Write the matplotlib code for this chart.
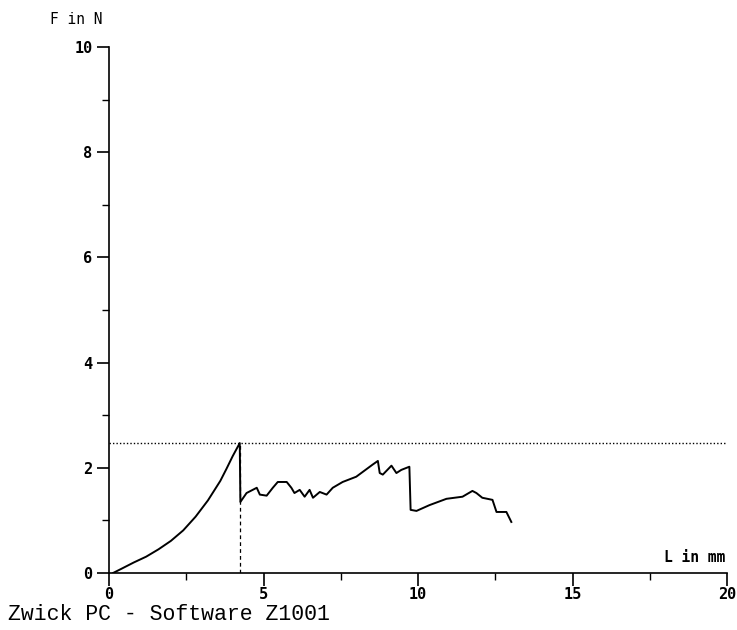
import numpy as np
import matplotlib.pyplot as plt
from matplotlib.ticker import MultipleLocator

# Kraft-Weg-Kurve (L in mm, F in N)
L_mm = [0.13, 0.4, 0.8, 1.2, 1.6, 2.0, 2.4, 2.8, 3.2, 3.6, 3.8, 4.0, 4.23,
        4.25, 4.45, 4.78, 4.88, 5.1, 5.3, 5.46, 5.75, 5.9, 6.0, 6.17,
        6.33, 6.49, 6.6, 6.82, 7.04, 7.24, 7.56, 8.0, 8.53, 8.7, 8.76,
        8.86, 9.14, 9.3, 9.46, 9.72, 9.76, 9.95, 10.37, 10.92, 11.44,
        11.76, 11.89, 12.08, 12.41, 12.54, 12.86, 13.02]
F_N = [0.0, 0.08, 0.2, 0.31, 0.45, 0.61, 0.81, 1.07, 1.38, 1.75, 1.98, 2.22, 2.47,
       1.35, 1.52, 1.62, 1.49, 1.47, 1.62, 1.73, 1.73, 1.62, 1.52, 1.58,
       1.45, 1.58, 1.43, 1.54, 1.49, 1.62, 1.73, 1.83, 2.06, 2.13, 1.9,
       1.87, 2.04, 1.9, 1.96, 2.02, 1.2, 1.18, 1.29, 1.41, 1.45,
       1.56, 1.52, 1.43, 1.39, 1.16, 1.16, 0.97]
F_max = 2.47
L_Fmax = 4.23

fig = plt.figure(figsize=(7.37, 6.3), dpi=100)
ax = fig.add_axes([0.148, 0.0905, 0.8384, 0.835])

ax.plot(L_mm, F_N, color='black', lw=1.4)
ax.plot([0, 20], [F_max, F_max], color='black', lw=1.0, ls=(0, (1, 1.5)))
ax.plot([L_Fmax, L_Fmax], [0, F_max], color='black', lw=0.9, ls=(0, (3, 2.5)))

ax.set_xlim(0, 20)
ax.set_ylim(0, 10)
ax.spines['top'].set_visible(False)
ax.spines['right'].set_visible(False)
ax.spines['left'].set_bounds(0, 10)
ax.spines['bottom'].set_bounds(0, 20)
for s in ('left', 'bottom'):
    ax.spines[s].set_linewidth(1.2)

ax.xaxis.set_major_locator(MultipleLocator(5))
ax.xaxis.set_minor_locator(MultipleLocator(2.5))
ax.yaxis.set_major_locator(MultipleLocator(2))
ax.yaxis.set_minor_locator(MultipleLocator(1))
ax.tick_params(which='major', length=9, width=1.2, direction='out')
ax.tick_params(which='minor', length=5, width=1.0, direction='out')
ax.tick_params(axis='x', which='major', pad=1)
ax.tick_params(axis='y', which='major', pad=3)

tick_font = dict(family='DejaVu Sans Mono', weight='bold', size=11)
ax.set_xticks([0, 5, 10, 15, 20])
ax.set_xticklabels(['0', '5', '10', '15', '20'], **tick_font)
ax.set_yticks([0, 2, 4, 6, 8, 10])
ax.set_yticklabels(['0', '2', '4', '6', '8', '10'], **tick_font)

fig.text(50 / 737, 1 - 20 / 630, 'F in N', family='DejaVu Sans Mono',
         fontsize=10.5, va='center', ha='left')
fig.text(725 / 737, 1 - 557 / 630, 'L in mm', family='DejaVu Sans Mono',
         fontsize=10.5, weight='bold', va='center', ha='right')
fig.text(8 / 737, 1 - 614 / 630, 'Zwick PC - Software Z1001',
         family='Liberation Mono', fontsize=15.5, va='center', ha='left')

fig.savefig('out.png', dpi=100, facecolor='white')
